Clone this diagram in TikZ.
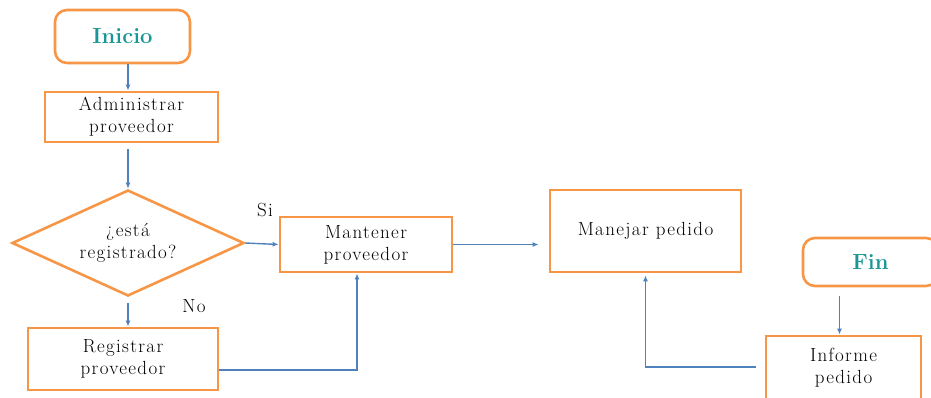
\documentclass[tikz,border=0pt]{standalone}
\usepackage{fontspec}
\newfontfamily\spacedserif[LetterSpace=7]{Latin Modern Roman}
\usetikzlibrary{shapes.geometric,arrows.meta}

\definecolor{boxorange}{RGB}{247,150,70}
\definecolor{flowblue}{RGB}{79,129,189}
\definecolor{termteal}{RGB}{27,150,150}

\begin{document}
\begin{tikzpicture}[x=1pt,y=-1pt,
  txt/.style={font=\spacedserif\fontsize{19}{22}\selectfont},
  proc/.style={txt, draw=boxorange, line width=2.8pt, align=center, inner sep=0pt},
  term/.style={draw=boxorange, line width=2.6pt, rounded corners=12pt,
    minimum width=135pt, text=termteal,
    font=\rmfamily\bfseries\fontsize{22}{24}\selectfont},
  decision/.style={txt, diamond, aspect=2.2, draw=boxorange, line width=2.6pt,
    align=center, inner sep=0pt, minimum width=232pt, minimum height=106pt},
  flow/.style={draw=flowblue, line width=1.4pt, -{Latex[length=6pt,width=5pt]}}]
\useasboundingbox (0,0) rectangle (931,397);

% steps of the flow
\node[term, minimum height=53pt] (inicio) at (122.5,36.5) {Inicio};
\node[proc, minimum width=173pt, minimum height=50pt] (admin) at (131.5,117) {Administrar\\proveedor};
\node[decision] (registrado) at (128,243) {¿está\\registrado?};
\node[proc, minimum width=172pt, minimum height=55pt] (mantener) at (366,244.5) {Mantener\\proveedor};
\node[proc, minimum width=190pt, minimum height=62pt] (registrar) at (123,359) {Registrar\\proveedor};
\node[proc, minimum width=191pt, minimum height=82pt] (manejar) at (645.5,231) {Manejar pedido};
\node[term, minimum height=48pt] (fin) at (870.5,262) {Fin};
\node[proc, minimum width=155pt, minimum height=64pt] (informe) at (843.5,368) {Informe\\pedido};

% branch labels
\node[txt] (si) at (265,210) {Si};
\node[txt] (no) at (194,306) {No};

% connectors
\draw[flow] (inicio.south -| registrado.north) -- (admin.north -| registrado.north);
\draw[flow, shorten <=6pt] (admin.south -| registrado.north) -- (registrado.north);
\draw[flow] (registrado.east) -- (mantener.west);
\draw[flow, shorten <=6pt] (registrado.south) -- (registrar.north -| registrado.south);
\draw[flow] ([yshift=-11pt]registrar.east) -| ([xshift=-9pt]mantener.south);
\draw[flow, shorten >=10pt] (mantener.east) -- (mantener.east -| manejar.west);
\draw[flow, shorten <=9pt] (fin.south -| informe.north) ++(-4,0) coordinate (fin-out) -- (fin-out |- informe.north);
\draw[flow, shorten >=2pt] ([xshift=-9pt,yshift=1pt]informe.west) -| (manejar.south);
\end{tikzpicture}
\end{document}
